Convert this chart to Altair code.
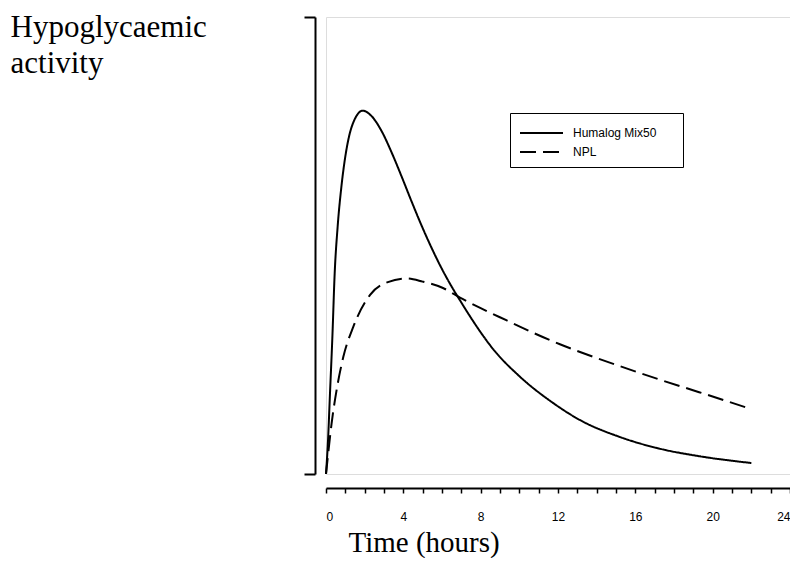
import altair as alt
import pandas as pd

# Hours and relative hypoglycaemic activity
humalog_t = [0, 0.1, 0.21, 0.33, 0.45, 0.6, 0.8, 1.0, 1.2, 1.45, 1.9, 2.36, 2.88, 3.40, 3.92,
             4.43, 4.95, 5.47, 5.98, 6.5, 6.93, 7.54, 8.65, 10.03, 11.76, 13.14, 15.2, 17.3,
             19.3, 22.0]
humalog_v = [0, 7.0, 18.0, 30.0, 44.0, 54.0, 63.0, 69.5, 74.0, 77.3, 79.5, 78.3, 75.0, 70.3, 65.0,
             59.6, 54.3, 49.4, 45.0, 41.0, 38.0, 33.9, 27.3, 21.3, 15.5, 11.8, 8.1, 5.5,
             3.9, 2.4]
npl_t = [0, 0.1, 0.29, 0.55, 0.9, 1.41, 2.28, 3.2, 4.17, 5.0, 6.05, 6.93, 8.0, 9.35, 10.72,
         12.1, 13.14, 15.2, 17.3, 19.3, 22.0]
npl_v = [0, 4.0, 11.1, 18.4, 25.7, 32.2, 39.2, 42.0, 42.8, 42.1, 40.7, 38.6, 36.3, 33.6, 30.9,
         28.4, 26.7, 23.6, 20.6, 17.9, 14.2]
series_names = ["Humalog Mix50", "NPL"]
x_ticks = list(range(0, 25))

df = pd.concat([
    pd.DataFrame({"t": humalog_t, "v": humalog_v, "series": series_names[0], "order": range(len(humalog_t))}),
    pd.DataFrame({"t": npl_t, "v": npl_v, "series": series_names[1], "order": range(len(npl_t))}),
])

serif = "Liberation Serif"
sans = "Liberation Sans"

chart = alt.Chart(df).mark_line(color="black", strokeWidth=2, interpolate="monotone").encode(
    x=alt.X("t:Q", scale=alt.Scale(domain=[0, 24], nice=False, zero=False),
            axis=alt.Axis(values=x_ticks, labelExpr="datum.value % 4 == 0 ? datum.label : ''",
                          title="Time (hours)", titleFont=serif, titleFontSize=29,
                          titleFontWeight="normal", titleColor="black",
                          titleAnchor="start", titleAlign="left", titleX=22, titleY=63,
                          titleBaseline="alphabetic",
                          labelFont=sans, labelFontSize=12, labelColor="black", labelPadding=18,
                          tickSize=5, tickWidth=1.5, tickColor="black",
                          domainWidth=2, domainColor="black", offset=14, grid=False)),
    y=alt.Y("v:Q", scale=alt.Scale(domain=[0, 100], nice=False),
            axis=alt.Axis(values=[0, 100], labels=False, tickSize=11, tickWidth=2, tickColor="black",
                          domainWidth=2, domainColor="black", offset=11, grid=False,
                          title=["Hypoglycaemic", "activity"], titleFont=serif, titleFontSize=31,
                          titleFontWeight="normal", titleColor="black", titleAngle=0,
                          titleAlign="left", titleBaseline="alphabetic", titleLineHeight=36,
                          titleX=-305, titleY=19)),
    strokeDash=alt.StrokeDash("series:N", scale=alt.Scale(domain=series_names, range=[[1, 0], [16, 7]]),
                              legend=alt.Legend(title="MM", titleOpacity=0, titleOrient="right",
                                                titleFontSize=8, titlePadding=4,
                                                orient="none", legendX=184, legendY=96,
                                                symbolType="M-2.15,0H2.15", symbolSize=400,
                                                symbolOffset=11.5,
                                                symbolStrokeColor="black", symbolStrokeWidth=2,
                                                symbolFillColor="transparent",
                                                labelFont=sans, labelFontSize=12, labelColor="black",
                                                labelOffset=20.5, rowPadding=2, padding=9,
                                                strokeColor="black",
                                                fillColor="white")),
    order="order:Q",
).properties(
    width=464, height=457,
    autosize=alt.AutoSizeParams(type="none"),
    padding={"left": 318, "top": 9, "right": 0, "bottom": 84},
).configure_view(stroke=None).configure(background="white")

chart.save("out.html", embed_options={"renderer": "svg", "actions": False})
